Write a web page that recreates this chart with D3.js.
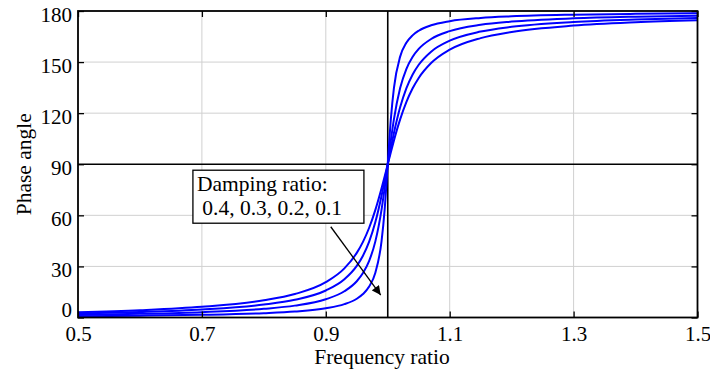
<!DOCTYPE html>
<html><head><meta charset="utf-8">
<script src="https://cdn.jsdelivr.net/npm/d3@7"></script>
<style>
body{margin:0;background:#fff;}
text{font-family:"Liberation Serif","Times New Roman",serif;fill:#000;}
</style></head>
<body><svg id="c" width="710" height="375"></svg>
<script>
const freqRatio = [0.5,0.6,0.7,0.8,0.85,0.9,0.93,0.95,0.96,0.97,0.98,0.99,0.995,1.0,1.005,1.01,1.02,1.03,1.04,1.05,1.07,1.1,1.15,1.2,1.3,1.4,1.5];
const phaseA = [3.05,4.29,6.27,10.08,13.77,20.75,28.84,37.94,44.41,52.71,63.21,75.89,82.86,90,97.11,103.97,116.34,126.47,134.44,140.67,149.42,157.27,164.08,167.69,171.43,173.35,174.52];
const phaseB = [2.29,3.22,4.71,7.59,10.41,15.87,22.44,30.31,36.30,44.56,56.04,71.48,80.51,90,99.44,108.35,123.43,134.57,142.60,148.43,156.10,162.55,167.92,170.71,173.55,175.00,175.88];
const phaseC = [1.53,2.15,3.14,5.08,6.98,10.73,15.40,21.30,26.09,33.29,44.71,63.32,75.93,90,104.0,116.45,134.72,145.92,152.99,157.72,163.54,168.17,171.88,173.77,175.69,176.66,177.25];
const phaseD = [0.76,1.07,1.57,2.55,3.51,5.41,7.84,11.03,13.76,18.17,26.33,44.86,63.38,90,116.52,134.86,153.21,161.31,165.70,168.42,171.60,174.02,175.92,176.88,177.84,178.33,178.63];
const series = [phaseA, phaseB, phaseC, phaseD];
const xTicks = [0.5,0.7,0.9,1.1,1.3,1.5];
const yTicks = [0,30,60,90,120,150,180];
const xLabel = "Frequency ratio";
const yLabel = "Phase angle";
const noteLines = ["Damping ratio:", " 0.4, 0.3, 0.2, 0.1"];

const svg = d3.select("#c");
const L=78, R=697.5, T=11, B=317.5;
const x = d3.scaleLinear().domain([0.5,1.5]).range([L,R]);
const y = d3.scaleLinear().domain([0,180]).range([B,T]);

// grid
const g = svg.append("g");
g.selectAll(".gx").data(xTicks.slice(1,-1)).enter().append("line")
 .attr("x1",d=>x(d)).attr("x2",d=>x(d)).attr("y1",T).attr("y2",B)
 .attr("stroke","#d0d0d0").attr("stroke-width",1);
g.selectAll(".gy").data(yTicks.filter(d=>d!==0&&d!==180&&d!==90)).enter().append("line")
 .attr("y1",d=>y(d)).attr("y2",d=>y(d)).attr("x1",L).attr("x2",R)
 .attr("stroke","#d0d0d0").attr("stroke-width",1);

// reference lines
g.append("line").attr("x1",x(1.0)).attr("x2",x(1.0)).attr("y1",T).attr("y2",B).attr("stroke","#000").attr("stroke-width",1.6);
g.append("line").attr("x1",L).attr("x2",R).attr("y1",y(90)).attr("y2",y(90)).attr("stroke","#000").attr("stroke-width",1.6);

// curves
const line = d3.line().x((d,i)=>x(freqRatio[i])).y(d=>y(d)).curve(d3.curveMonotoneX);
svg.append("defs").append("clipPath").attr("id","clip").append("rect").attr("x",L).attr("y",T).attr("width",R-L).attr("height",B-T);
svg.append("g").attr("clip-path","url(#clip)").selectAll("path.s").data(series).enter().append("path")
 .attr("d",line).attr("fill","none").attr("stroke","#0000ff").attr("stroke-width",2);

// axes (ticks inward)
const fs = 21;
const ax = svg.append("g");
const bx = d3.axisBottom(x).tickValues(xTicks).tickSize(-6).tickFormat(d3.format(".1f"));
const bAxis = ax.append("g").attr("transform",`translate(0,${B})`).call(bx);
const tAxis = ax.append("g").attr("transform",`translate(0,${T})`).call(d3.axisTop(x).tickValues(xTicks).tickSize(-6).tickFormat(""));
const ly = d3.axisLeft(y).tickValues(yTicks).tickSize(-6).tickPadding(6).tickFormat(d3.format("d"));
const lAxis = ax.append("g").attr("transform",`translate(${L},0)`).call(ly);
const rAxis = ax.append("g").attr("transform",`translate(${R},0)`).call(d3.axisRight(y).tickValues(yTicks).tickSize(-6).tickFormat(""));
[bAxis,tAxis,lAxis,rAxis].forEach(a=>{
  a.attr("font-size",null).attr("font-family",null);
  a.select(".domain").remove();
  a.selectAll(".tick line").attr("stroke","#000").attr("stroke-width",1.3);
  a.selectAll("text").style("font-family","'Liberation Serif',serif").style("font-size",fs+"px").attr("fill","#000");
});
bAxis.selectAll("text").attr("dy",null).attr("y",23.5);
lAxis.selectAll("text").attr("x",-6).attr("dy",null).attr("y",d=>d===0?-1.5:10);
// frame
svg.append("rect").attr("x",L).attr("y",T).attr("width",R-L).attr("height",B-T)
 .attr("fill","none").attr("stroke","#000").attr("stroke-width",1.8);

// axis labels
svg.append("text").attr("x",382).attr("y",364).attr("text-anchor","middle").style("font-size","21.5px").text(xLabel);
svg.append("text").attr("transform",`translate(31,${y(90)}) rotate(-90)`).attr("text-anchor","middle").style("font-size","21.5px").text(yLabel);

// annotation
const note = svg.append("g");
note.append("rect").attr("x",x(0.6855)).attr("y",y(86.5)).attr("width",171).attr("height",53)
 .attr("fill","#fff").attr("stroke","#000").attr("stroke-width",1.3);
note.selectAll("text.n").data(noteLines).enter().append("text")
 .attr("x",x(0.6855)+4).attr("y",(d,i)=>y(86.5)+21+i*24).style("font-size","21.5px").attr("xml:space","preserve").style("white-space","pre").text(d=>d);
svg.select("defs").append("marker").attr("id","ah").attr("viewBox","0 0 10 10").attr("refX",10).attr("refY",5)
 .attr("markerWidth",10).attr("markerHeight",9).attr("markerUnits","userSpaceOnUse").attr("orient","auto")
 .append("path").attr("d","M0,0L10,5L0,10z").attr("fill","#000");
svg.append("line").attr("x1",x(0.908)).attr("y1",y(53.3)).attr("x2",x(0.9886)).attr("y2",y(13.2))
 .attr("stroke","#000").attr("stroke-width",1.3).attr("marker-end","url(#ah)");
</script></body></html>
